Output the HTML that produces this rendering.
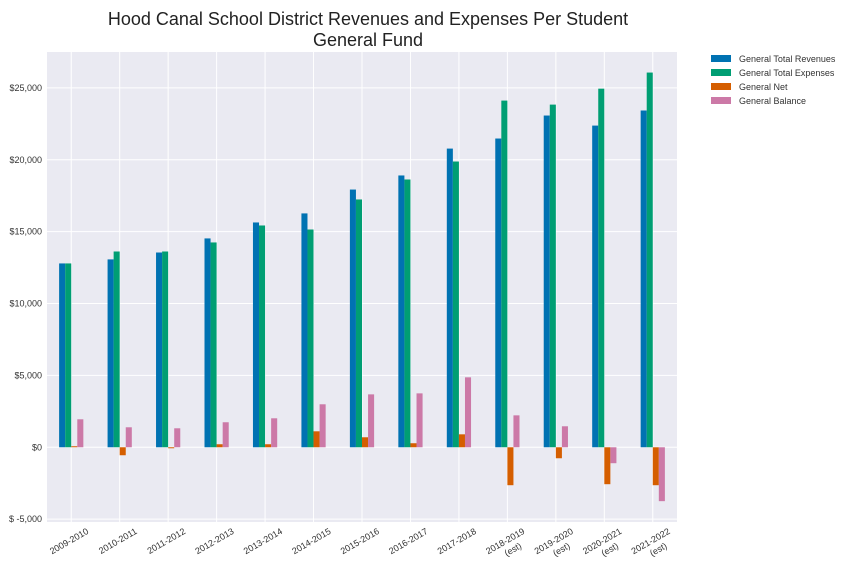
<!DOCTYPE html>
<html><head><meta charset="utf-8"><style>
body{margin:0;background:#fff;font-family:"Liberation Sans",sans-serif;}
svg{display:block}
</style></head><body>
<svg id="chart" width="864" height="576" xmlns="http://www.w3.org/2000/svg">
<rect width="864" height="576" fill="#fff"/>
<text x="368" y="25" font-size="18" text-anchor="middle" fill="#222">Hood Canal School District Revenues and Expenses Per Student</text>
<text x="368" y="46" font-size="18" text-anchor="middle" fill="#222">General Fund</text>
<rect x="47" y="52" width="630" height="470" fill="#eaeaf2"/>
<g id="grid"></g><g id="bars"></g><g id="ticks"></g><g id="legend"></g>
</svg>
<script>
const categories=["2009-2010","2010-2011","2011-2012","2012-2013","2013-2014","2014-2015","2015-2016","2016-2017","2017-2018","2018-2019|(est)","2019-2020|(est)","2020-2021|(est)","2021-2022|(est)"];
const revenues=[12790,13070,13550,14530,15640,16270,17930,18910,20780,21480,23080,22380,23430];
const expenses=[12790,13620,13620,14250,15430,15150,17240,18630,19880,24120,23840,24950,26070];
const net=[70,-556,-70,210,210,1110,695,280,900,-2640,-765,-2570,-2640];
const balance=[1946,1390,1320,1740,2015,2990,3680,3750,4865,2220,1460,-1110,-3750];
const seriesNames=["General Total Revenues","General Total Expenses","General Net","General Balance"];
const yTicks=[-5000,0,5000,10000,15000,20000,25000];
const colors=["#0072b2","#009e73","#d55e00","#cc79a7"];
const NS="http://www.w3.org/2000/svg";
const L=47,R=677,T=52,B=522,YMIN=-5200,YMAX=27500;
const step=(R-L)/categories.length;
const xs=i=>L+step*(i+0.5);
const ys=v=>B-(v-YMIN)/(YMAX-YMIN)*(B-T);
function mk(tag,attrs,parent){const e=document.createElementNS(NS,tag);for(const k in attrs)e.setAttribute(k,attrs[k]);parent.appendChild(e);return e;}
const grid=document.getElementById('grid'),bars=document.getElementById('bars'),ticks=document.getElementById('ticks'),legend=document.getElementById('legend');
yTicks.forEach(v=>{
  const y=ys(v);
  const g=mk('line',{x1:L,x2:R,y1:y,y2:y,stroke:'#fff','stroke-width':1},grid);
  
  
  const t=mk('text',{x:L-5,y:y+3,'font-size':9,'text-anchor':'end',fill:'#333'},ticks);
  t.textContent=(v<0?'$ -':'$')+Math.abs(v).toLocaleString('en-US');
  
  
});
categories.forEach((c,i)=>{
  const x=xs(i);
  const g=mk('line',{x1:x,x2:x,y1:T,y2:B,stroke:'#fff','stroke-width':1},grid);
  
  
  const parts=c.split('|');
  const t=mk('text',{transform:`translate(${x+18},${B+11}) rotate(-30)`,'font-size':9,'text-anchor':'end',fill:'#333'},ticks);
  
  
  parts.forEach((p,j)=>{const s=mk('tspan',{x:0,dy:j?11:0},t);s.textContent=p;if(j)s.setAttribute('dx',-10);});
});
const all=[revenues,expenses,net,balance];
const bw=step*0.5/4;
all.forEach((arr,s)=>{
  arr.forEach((v,i)=>{
    const x=xs(i)-step*0.25+s*bw;
    const y0=ys(0),y1=ys(v);
    const r=mk('rect',{x:x,y:Math.min(y0,y1),width:bw,height:Math.abs(y1-y0),fill:colors[s]},bars);
    
    
  });
});
seriesNames.forEach((n,i)=>{
  const y=59+i*14;
  const r=mk('rect',{x:711,y:y-4,width:20,height:7,fill:colors[i]},legend);
  
  
  const t=mk('text',{x:739,y:y+3,'font-size':9,fill:'#333'},legend);
  t.textContent=n;
  
  
});
</script>
</body></html>
